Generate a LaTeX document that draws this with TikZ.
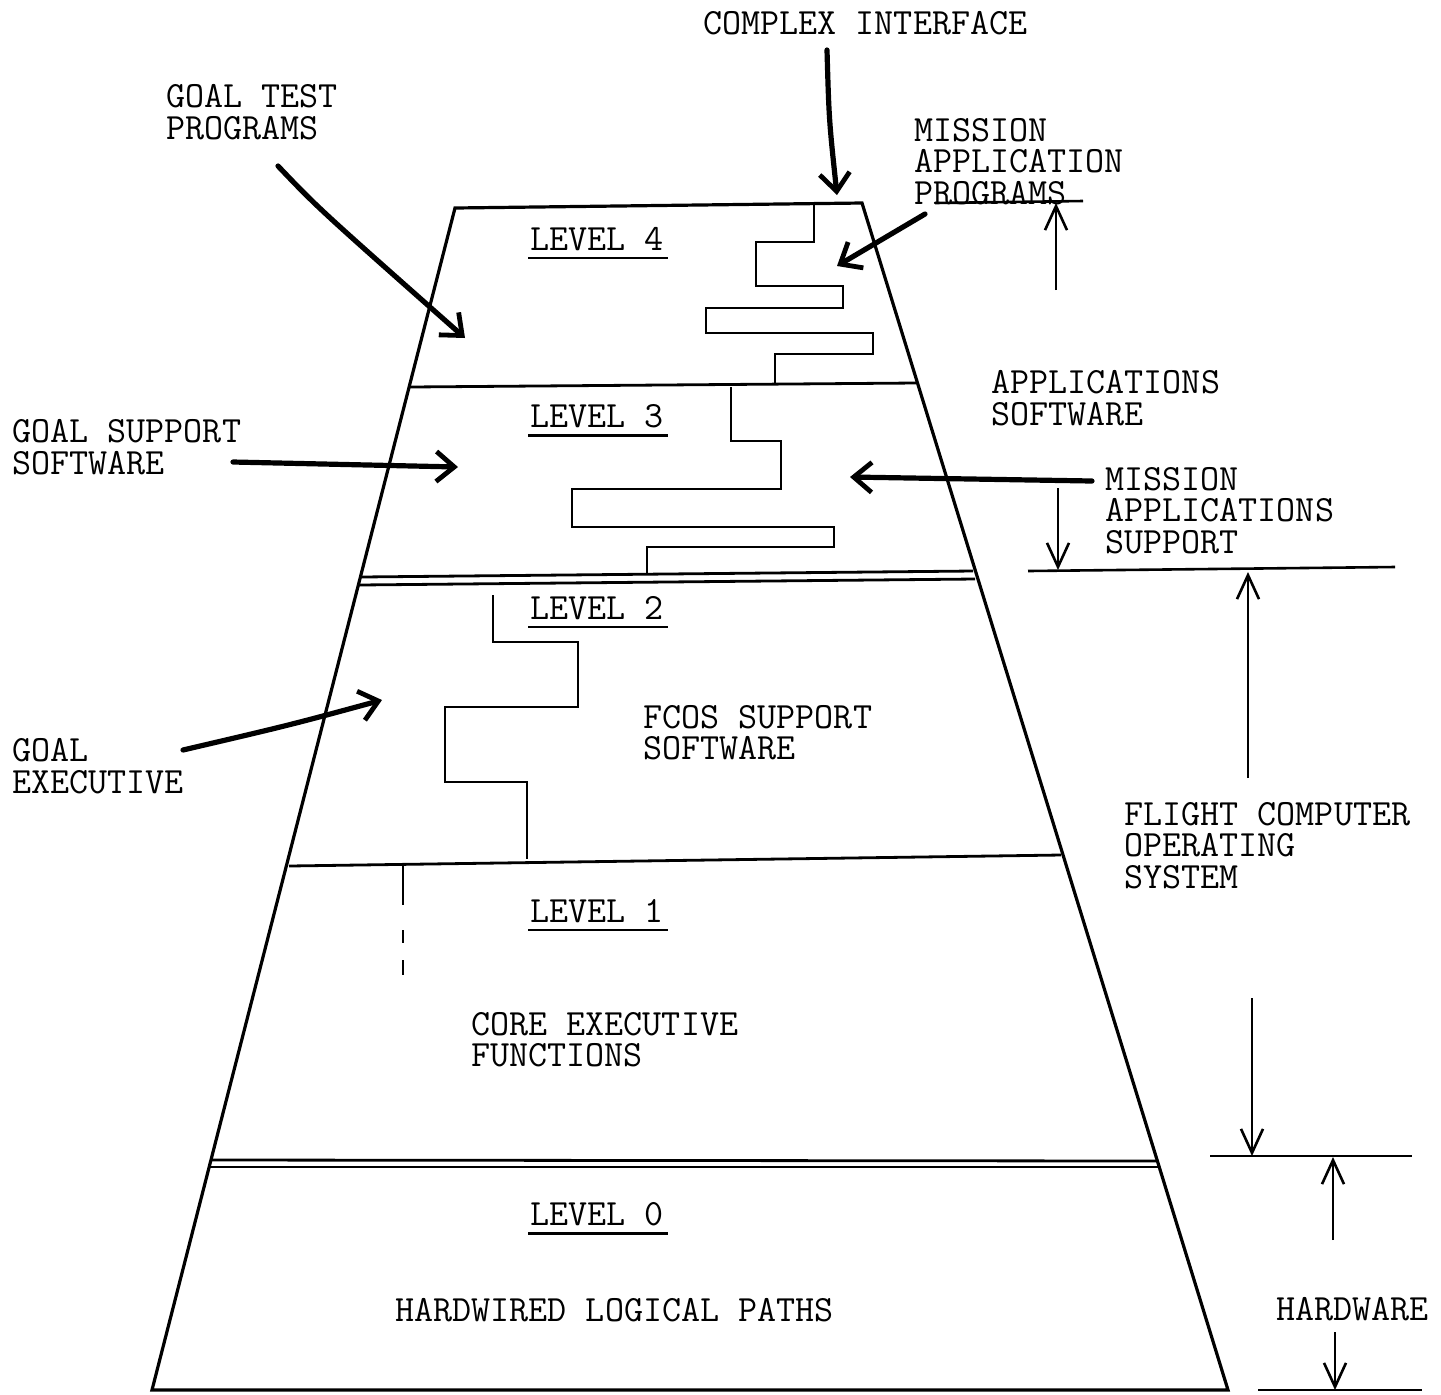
\documentclass[tikz,border=0pt]{standalone}
\usepackage{tikz}
\usetikzlibrary{arrows.meta}
\usetikzlibrary{positioning}
\newcommand{\typefont}{\fontsize{18.5}{15.75}\selectfont\ttfamily}
\tikzstyle{caption_text}=[inner sep=0pt, anchor=north west, align=left, font=\typefont]
\tikzstyle{edge_line}=[line width=1.6pt, line join=miter]
\tikzstyle{level_line}=[line width=1.4pt]
\tikzstyle{stair_line}=[line width=1.4pt]
\tikzstyle{under_line}=[line width=1.2pt]
\tikzstyle{tick_line}=[line width=1.3pt]
\tikzstyle{pointer}=[line width=2.6pt, line cap=round,
    -{Straight Barb[length=9pt,width=15pt,line width=2.4pt]}]
\tikzstyle{span_arrow}=[line width=1.2pt,
    -{Straight Barb[length=12pt,width=11pt,line width=1.3pt]}]

\begin{document}
\begin{tikzpicture}[x=0.5pt, y=-0.5pt]
\useasboundingbox (0,0) rectangle (1441,1394);
\coordinate (top_l) at (455,208);
\coordinate (top_r) at (862,203);
\coordinate (bot_l) at (152,1390);
\coordinate (bot_r) at (1228,1390);
\draw[edge_line] (bot_l) -- (top_l) -- (top_r) -- (bot_r) -- cycle;
\draw[level_line] (410,387) -- (916,383);
\draw[level_line] (361,577) -- (973,571);
\draw[level_line] (359,585) -- (975,579);
\draw[level_line] (289,866) -- (1061,855);
\draw[level_line] (212,1160) -- (1158,1161);
\draw[level_line] (210,1167) -- (1160,1167);
\draw[stair_line] (814,205) |- (756,242) |- (843,286) |- (706,308) |- (873,333) |- (775,354) -- (775,385);
\draw[stair_line] (731,387) |- (781,441) |- (572,489) |- (834,527) |- (647,547) -- (647,574);
\draw[stair_line] (493,595) |- (578,642) |- (445,707) |- (527,782) -- (527,859);
\draw[stair_line] (403,866) -- (403,905) (403,930) -- (403,943) (403,960) -- (403,975);
\node[caption_text] (cplx) at (703,11) {COMPLEX INTERFACE};
\node[caption_text] (gtp) at (166,84) {GOAL TEST\\PROGRAMS};
\node[caption_text] (map) at (914,118) {MISSION\\APPLICATION\\PROGRAMS};
\node[caption_text] (lv4) at (530,227) {LEVEL 4};
\node[caption_text] (aps) at (991,370) {APPLICATIONS\\SOFTWARE};
\node[caption_text] (lv3) at (530,404) {LEVEL 3};
\node[caption_text] (gss) at (12,419) {GOAL SUPPORT\\SOFTWARE};
\node[caption_text] (mas) at (1105,467) {MISSION\\APPLICATIONS\\SUPPORT};
\node[caption_text] (lv2) at (530,596) {LEVEL 2};
\node[caption_text] (fcs) at (643,705) {FCOS SUPPORT\\SOFTWARE};
\node[caption_text] (gex) at (12,738) {GOAL\\EXECUTIVE};
\node[caption_text] (fcos) at (1124,802) {FLIGHT COMPUTER\\OPERATING\\SYSTEM};
\node[caption_text] (lv1) at (530,899) {LEVEL 1};
\node[caption_text] (cef) at (471,1012) {CORE EXECUTIVE\\FUNCTIONS};
\node[caption_text] (lv0) at (530,1202) {LEVEL 0};
\node[caption_text] (hlp) at (395,1298) {HARDWIRED LOGICAL PATHS};
\node[caption_text] (hw) at (1276,1297) {HARDWARE};
\foreach \lv in {lv4,lv3,lv2,lv1,lv0}
  \draw[under_line] ([xshift=-1pt,yshift=-3.5pt]\lv.south west) -- ([xshift=2pt,yshift=-3.5pt]\lv.south east);
\coordinate (cplx_from) at (827,50);
\coordinate (cplx_to) at (837,195);
\coordinate (gtp_from) at (278,166);
\coordinate (gtp_to) at (465,338);
\coordinate (map_from) at (925,214);
\coordinate (map_to) at (837,266);
\coordinate (gss_from) at (233,462);
\coordinate (gss_to) at (458,467);
\coordinate (mas_from) at (1092,481);
\coordinate (mas_to) at (850,477);
\coordinate (gex_from) at (183,750);
\coordinate (gex_to) at (382,700);
\draw[pointer] (cplx_from) .. controls (829,120) .. (cplx_to);
\draw[pointer] (gtp_from) .. controls (318,208) .. (gtp_to);
\draw[pointer] (map_from) -- (map_to);
\draw[pointer] (gss_from) -- (gss_to);
\draw[pointer] (mas_from) -- (mas_to);
\draw[pointer] (gex_from) .. controls (290,725) .. (gex_to);
\coordinate (aps_top) at (1056,203);
\coordinate (aps_up) at (1056,290);
\coordinate (aps_dn) at (1058,488);
\coordinate (aps_bot) at (1058,570);
\coordinate (fcos_top) at (1248,572);
\coordinate (fcos_up) at (1248,778);
\coordinate (fcos_dn) at (1252,998);
\coordinate (fcos_bot) at (1252,1156);
\coordinate (hw_top) at (1333,1157);
\coordinate (hw_up) at (1333,1240);
\coordinate (hw_dn) at (1335,1332);
\coordinate (hw_bot) at (1335,1390);
\draw[span_arrow] (aps_up) -- (aps_top);
\draw[span_arrow] (aps_dn) -- (aps_bot);
\draw[span_arrow] (fcos_up) -- (fcos_top);
\draw[span_arrow] (fcos_dn) -- (fcos_bot);
\draw[span_arrow] (hw_up) -- (hw_top);
\draw[span_arrow] (hw_dn) -- (hw_bot);
\draw[tick_line] (935,203) -- (1083,201);
\draw[tick_line] (1028,571) -- (1395,567);
\draw[tick_line] (1210,1156) -- (1412,1156);
\draw[tick_line] (1258,1390) -- (1422,1390);
\end{tikzpicture}
\end{document}
